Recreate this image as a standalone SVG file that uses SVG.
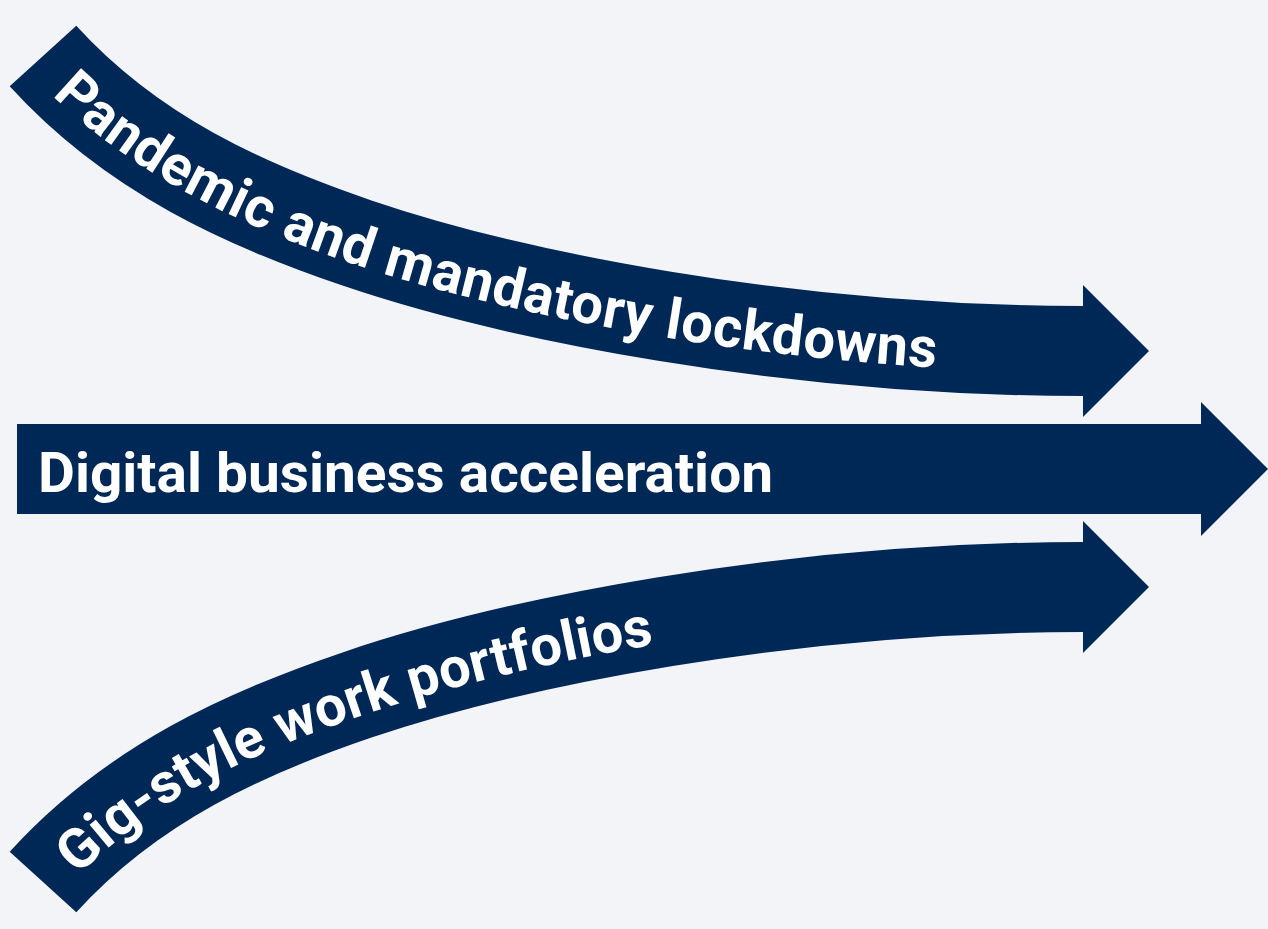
<svg xmlns="http://www.w3.org/2000/svg" xmlns:xlink="http://www.w3.org/1999/xlink" width="1268" height="929" viewBox="0 0 1268 929">
  <style>
    .band { fill: none; stroke: #002856; stroke-width: 90; stroke-linecap: butt; }
    .head { fill: #002856; }
    .lbl { font-family: Roboto, "Liberation Sans", Arial, sans-serif; font-weight: bold; font-size: 56px; fill: #ffffff; }
  </style>
  <defs>
    <path id="baseTop" d="M27.5,70.1 C117.5,169.1 240.2,225.5 350.2,262.9 C500.2,313.9 783,372 1083,372"/>
    <path id="baseBot" d="M58.5,896.1 C148.5,797.1 253.8,752.3 363.8,714.9 C513.8,663.9 783,608 1083,608"/>
  </defs>
  <rect x="0" y="0" width="1268" height="929" fill="#F2F4F8"/>

  <g id="pandemic">
    <path class="band" d="M43,56 C133,155 247,205.6 357,243 C507,294 783,351 1084,351"/>
    <polygon class="head" points="1083,285 1149,351 1083,417"/>
    <text class="lbl" letter-spacing="0.5"><textPath xlink:href="#baseTop" href="#baseTop" startOffset="35">Pandemic and mandatory lockdowns</textPath></text>
  </g>

  <g id="digital">
    <polygon class="head" points="17,424 1201,424 1201,402 1268,469 1201,536 1201,514 17,514"/>
    <text class="lbl" x="38" y="492" textLength="735" lengthAdjust="spacingAndGlyphs">Digital business acceleration</text>
  </g>

  <g id="gig">
    <path class="band" d="M43,882 C133,783 247,732.4 357,695 C507,644 783,587 1084,587"/>
    <polygon class="head" points="1083,521 1149,587 1083,653"/>
    <text class="lbl" letter-spacing="0.25"><textPath xlink:href="#baseBot" href="#baseBot" startOffset="28">Gig-style work portfolios</textPath></text>
  </g>
</svg>
